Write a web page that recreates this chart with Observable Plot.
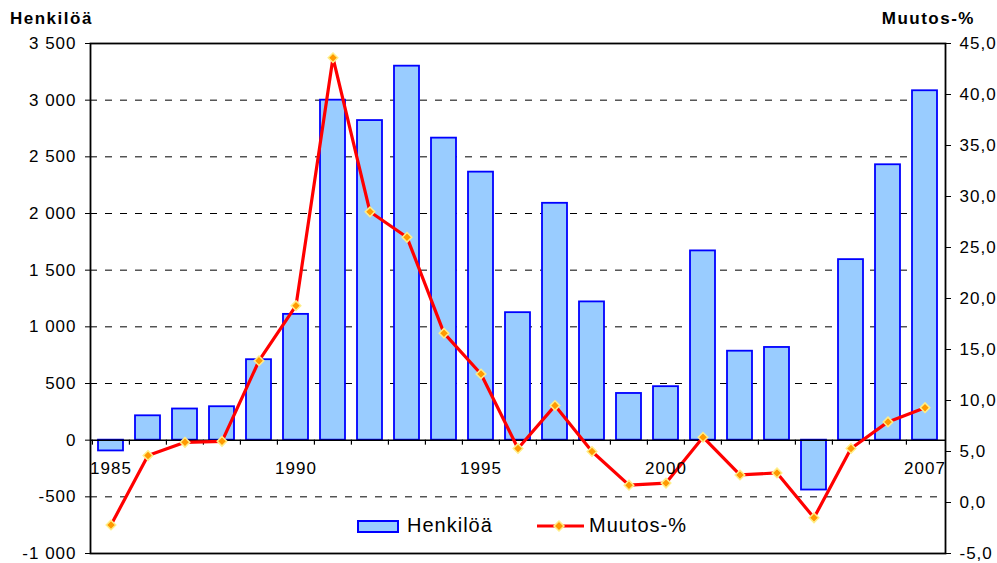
<!DOCTYPE html>
<html><head><meta charset="utf-8">
<script src="https://cdn.jsdelivr.net/npm/d3@7"></script>
<script src="https://cdn.jsdelivr.net/npm/@observablehq/plot@0.6"></script>
<style>
body{margin:0;background:#fff;}
#wrap{position:relative;width:997px;height:563px;font-family:"Liberation Sans",Arial,sans-serif;color:#000;}
.ttl{position:absolute;font-weight:bold;font-size:17px;line-height:17px;letter-spacing:1.5px;top:10px;white-space:nowrap;}
.lg{position:absolute;font-size:20px;line-height:20px;letter-spacing:1px;white-space:nowrap;}
</style></head><body>
<div id="wrap"></div>
<script>
const years = [1985,1986,1987,1988,1989,1990,1991,1992,1993,1994,1995,1996,1997,1998,1999,2000,2001,2002,2003,2004,2005,2006,2007];
const henkiloa = [-95,215,275,295,710,1110,3000,2820,3300,2665,2365,1125,2090,1220,412,472,1670,785,818,-440,1593,2430,3083];
const muutos = [-2.2,4.6,5.9,6.0,13.9,19.3,43.6,28.5,26.0,16.6,12.6,5.3,9.5,5.0,1.7,1.9,6.4,2.7,2.9,-1.5,5.3,7.9,9.3];
const labelYears = [1985,1990,1995,2000,2007];
const leftTicks = [-1000,-500,0,500,1000,1500,2000,2500,3000,3500];
const gridTicks = [-500,500,1000,1500,2000,2500,3000];
const rightTicks = [-5,0,5,10,15,20,25,30,35,40,45];
const leftDomain = [-1000,3500];
const rightDomain = [-5,45];

const W = 997, H = 563, mL = 90, mR = 52, mT = 43, mB = 10;
const step = (W - mL - mR) / years.length;
const toL = p => (p - rightDomain[0]) / (rightDomain[1]-rightDomain[0]) * (leftDomain[1]-leftDomain[0]) + leftDomain[0];
const fromL = v => (v - leftDomain[0]) / (leftDomain[1]-leftDomain[0]) * (rightDomain[1]-rightDomain[0]) + rightDomain[0];
const fmtL = v => d3.format(",")(v).replace(/,/g, " ").replace("\u2212", "-");
const fmtR = v => (Math.round(fromL(v)*10)/10).toFixed(1).replace(".", ",");

const bars = years.map((y,i) => ({year:y, value:henkiloa[i]}));
const pts = years.map((y,i) => ({year:y, pct:muutos[i], v:toL(muutos[i])}));

const chart = Plot.plot({
  width: W, height: H,
  marginLeft: mL, marginRight: mR, marginTop: mT, marginBottom: mB,
  style: {fontFamily: '"Liberation Sans", Arial, sans-serif', fontSize: "17px", letterSpacing: "1px", color: "#000", background: "#fff", overflow: "visible"},
  x: {type: "band", domain: years, paddingInner: 0.33, paddingOuter: 0.165, axis: null},
  y: {domain: leftDomain},
  marks: [
    Plot.ruleY(gridTicks, {stroke: "#000", strokeWidth: 1, strokeDasharray: "7,8"}),
    Plot.barY(bars, {x: "year", y: "value", fill: "#99ccff", stroke: "#0000ff", strokeWidth: 1.8}),
    Plot.ruleY([0], {stroke: "#000", strokeWidth: 1.5}),
    Plot.ruleX(years, {x: d => d, y1: 0, y2: 0, insetBottom: -5, dx: -step/2, stroke: "#000", strokeWidth: 1.2}),
    Plot.line(pts, {x: "year", y: "v", stroke: "#ff0000", strokeWidth: 3.2}),
    Plot.dot(pts, {x: "year", y: "v", symbol: "diamond2", r: 4.3, fill: "#ff9900", stroke: "#ffee88", strokeWidth: 1.5}),
    Plot.text(labelYears, {x: d => d, y: 0, dy: 28, text: d => String(d), fontSize: 17}),
    Plot.axisY({ticks: leftTicks, anchor: "left", tickSize: 5, tickPadding: 9, tickFormat: fmtL}),
    Plot.axisY({ticks: rightTicks.map(toL), anchor: "right", tickSize: 5, tickPadding: 9, tickFormat: fmtR}),
    Plot.frame({stroke: "#000", strokeWidth: 1.8})
  ]
});
const wrap = document.getElementById("wrap");
wrap.appendChild(chart);

function addDiv(cls, text, css) {
  const d = document.createElement("div");
  d.className = cls; d.textContent = text;
  Object.assign(d.style, css);
  wrap.appendChild(d);
  return d;
}
addDiv("ttl", "Henkilöä", {left: "10px"});
addDiv("ttl", "Muutos-%", {right: "22px"});
// legend
const sw = document.createElement("div");
Object.assign(sw.style, {position: "absolute", left: "357px", top: "520px", width: "42px", height: "13px", boxSizing: "border-box", background: "#99ccff", border: "2px solid #0000ff"});
wrap.appendChild(sw);
addDiv("lg", "Henkilöä", {left: "407px", top: "515px"});
const ns = "http://www.w3.org/2000/svg";
const ls = document.createElementNS(ns, "svg");
ls.setAttribute("width", "48"); ls.setAttribute("height", "16");
Object.assign(ls.style, {position: "absolute", left: "537px", top: "518px"});
ls.innerHTML = '<line x1="0" y1="8" x2="47" y2="8" stroke="#ff0000" stroke-width="3"/>' +
  '<path d="M22,3 L27,8 L22,13 L17,8 Z" fill="#ff9900" stroke="#ffee88" stroke-width="1.5"/>';
wrap.appendChild(ls);
addDiv("lg", "Muutos-%", {left: "589px", top: "515px"});
</script>
</body></html>
